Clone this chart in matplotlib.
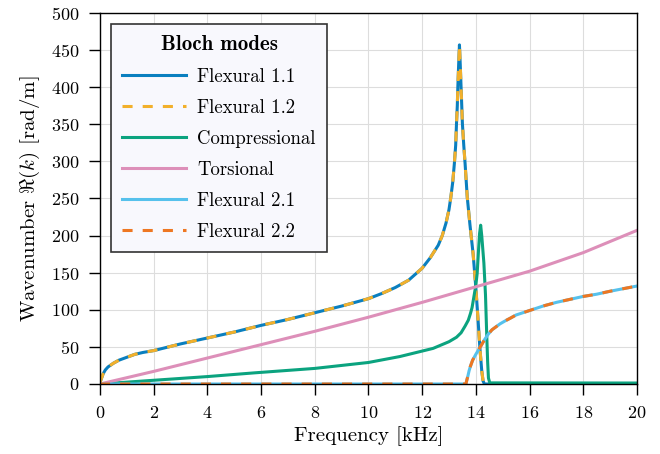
import numpy as np
import matplotlib
matplotlib.use("Agg")
import matplotlib.pyplot as plt

plt.rcParams['font.family'] = 'cmr10'
plt.rcParams['mathtext.fontset'] = 'cm'
plt.rcParams['axes.formatter.use_mathtext'] = True
plt.rcParams['axes.unicode_minus'] = False

# frequency [kHz] / wavenumber [rad/m]
f_flex1 = [0, 0.03, 0.06, 0.12, 0.2, 0.3, 0.5, 0.7, 1.0, 1.3, 1.6, 2, 3, 4, 5, 6, 7, 8, 9,
           10, 10.5, 11, 11.5, 12, 12.3, 12.6, 12.75, 12.89, 13.0, 13.07, 13.14, 13.2,
           13.25, 13.28, 13.31, 13.33, 13.36, 13.39, 13.42, 13.45, 13.5, 13.55, 13.6,
           13.68, 13.78, 13.9, 14.0, 14.08, 14.15, 14.22, 14.27, 14.32, 20]
k_flex1 = [2, 5, 8, 14, 19, 23, 28, 32, 36, 40, 42.5, 45, 54, 62, 70, 79, 87, 96, 105,
           115, 122, 130, 140, 156, 170, 187, 200, 217, 235, 252, 272, 297,
           322, 351, 375, 400, 430, 457, 430, 400, 351, 322, 297,
           252, 215, 175, 130, 88, 49, 18, 4, 0, 0]

f_comp = [0, 1, 2, 4, 5.75, 8, 10, 11.17, 12.41, 13, 13.28, 13.45, 13.6, 13.72, 13.8,
          13.86, 13.93, 14.0, 14.05, 14.1, 14.14, 14.18, 14.22, 14.3, 14.36, 14.4, 14.44,
          14.47, 14.52, 20]
k_comp = [0, 2.5, 5, 10, 15, 21, 29, 37, 48, 57, 63, 69, 78, 86, 95,
          103, 118, 133, 149, 180, 203, 214, 200, 163, 120, 73, 30,
          8, 1.5, 1.3]

f_tors = [0, 2, 4, 6, 8, 10, 12, 14, 16, 18, 20]
k_tors = [0, 17, 35, 53, 71, 90, 110, 131, 152, 177, 207]

f_flex2 = [0, 13.63, 13.65, 13.67, 13.7, 13.75, 13.8, 13.88, 14.0, 14.1, 14.2, 14.33,
           14.46, 14.6, 14.75, 14.9, 15.09, 15.3, 15.5, 15.75, 16.0, 16.5, 17, 17.5, 18,
           18.5, 19, 19.5, 20]
k_flex2 = [0, 0, 3, 6, 10, 18, 24, 32, 40, 46, 52, 60,
           67, 73, 77, 81, 85, 89, 93, 96, 99, 105, 110, 114, 118,
           121, 125, 128.5, 132]

fig, ax = plt.subplots(figsize=(6.6, 4.54), dpi=100)
fig.subplots_adjust(left=0.1515, right=0.965, top=0.9714, bottom=0.1542)

lw = 2.2
dash = (0, (3.3, 3.3))
ax.plot(f_flex1, k_flex1, color='#0A7FBF', lw=lw, label='Flexural 1.1')
ax.plot(f_flex1, k_flex1, color='#F2B02B', lw=lw, ls=dash, label='Flexural 1.2')
ax.plot(f_comp, k_comp, color='#0BA37F', lw=lw, label='Compressional')
ax.plot(f_tors, k_tors, color='#DD8FB9', lw=lw, label='Torsional')
ax.plot(f_flex2, k_flex2, color='#56C1EC', lw=lw, label='Flexural 2.1')
ax.plot(f_flex2, k_flex2, color='#EE7722', lw=lw, ls=dash, label='Flexural 2.2')

ax.set_xlim(0, 20)
ax.set_ylim(0, 500)
ax.set_xticks(np.arange(0, 21, 2))
ax.set_yticks(np.arange(0, 501, 50))
ax.grid(True, color='#DDDDDD', lw=0.8)
ax.set_axisbelow(True)
ax.tick_params(labelsize=13, length=8, width=1, pad=7, colors='black')
for s in ax.spines.values():
    s.set_linewidth(1)

ax.set_xlabel('Frequency [kHz]', fontsize=15, labelpad=4)
ax.set_ylabel(r'Wavenumber $\Re(k)$ [rad/m]', fontsize=15, labelpad=6)

leg = ax.legend(loc='upper left', fontsize=13.5, handlelength=3.4, handletextpad=0.6,
                labelspacing=0.7, borderpad=0.6, fancybox=False, framealpha=1,
                facecolor='#F8F8FD', edgecolor='#333333',
                title='Bloch modes', borderaxespad=0.6)
leg.get_title().set_fontfamily('cmb10')
leg.get_title().set_fontsize(15)
leg.get_frame().set_linewidth(1.2)

fig.savefig('out.png', dpi=100)
